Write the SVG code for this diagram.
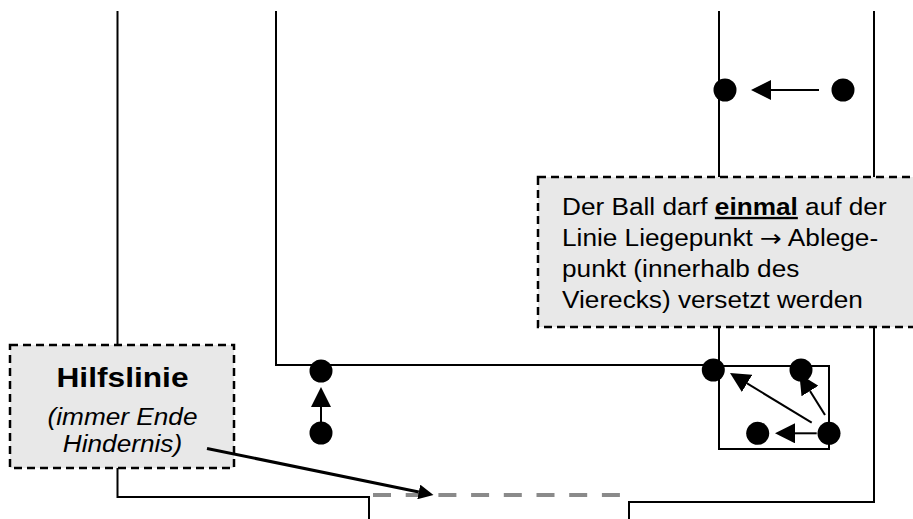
<svg xmlns="http://www.w3.org/2000/svg" width="913" height="519" viewBox="0 0 913 519">
<style>
.ln{fill:none;stroke:#000;stroke-width:2}
.ball{fill:#000}
.note{fill:#e8e8e8;stroke:#000;stroke-width:2.5;stroke-dasharray:8 5}
.t{font-family:"Liberation Sans",Arial,sans-serif;font-size:23.4px;fill:#000}
.conn{fill:none;stroke:#000;stroke-width:2;marker-end:url(#ah)}
.help{fill:none;stroke:#8a8a8a;stroke-width:4;stroke-dasharray:18 14.7}
</style>
<defs>
<marker id="ah" markerUnits="userSpaceOnUse" markerWidth="20" markerHeight="20" viewBox="0 0 20 20" refX="0" refY="10" orient="auto">
<path d="M0,0 L20,10 L0,20 z" fill="#000"/>
</marker>
<marker id="ah2" markerUnits="userSpaceOnUse" markerWidth="15" markerHeight="15" viewBox="0 0 15 15" refX="0" refY="7.5" orient="auto">
<path d="M0,0 L15,7.5 L0,15 z" fill="#000"/>
</marker>
</defs>
<rect width="913" height="519" fill="#fff"/>
<g id="field">
<path class="ln" d="M117.5,11 V497 H369 V519"/>
<path class="ln" d="M276,11 V365 H719"/>
<path class="ln" d="M719,11 V449 H829 V366 H719"/>
<path class="ln" d="M874,11 V502 H629 V519"/>
<line id="hilfslinie" class="help" x1="373" y1="495" x2="620" y2="495"/>
</g>
<g id="note-versetzen">
<rect class="note" x="538" y="177" width="400" height="150"/>
<g transform="translate(562,0) scale(1.12,1)">
<text class="t" y="215">Der Ball darf <tspan font-weight="bold" text-decoration="underline">einmal</tspan> auf der</text>
<text class="t" y="246">Linie Liegepunkt <tspan font-family="'DejaVu Sans',sans-serif">→</tspan> Ablege-</text>
<text class="t" y="277">punkt (innerhalb des</text>
<text class="t" y="308">Vierecks) versetzt werden</text>
</g>
</g>
<g id="note-hilfslinie">
<rect class="note" x="10" y="345" width="224" height="123"/>
<g transform="translate(122.5,0) scale(1.12,1)" text-anchor="middle">
<text class="t" y="387" style="font-weight:bold;font-size:28.3px">Hilfslinie</text>
<text class="t" y="425" font-style="italic">(immer Ende</text>
<text class="t" y="452" font-style="italic">Hindernis)</text>
</g>
</g>
<g id="connectors">
<line class="conn" x1="819" y1="90" x2="771" y2="90"/>
<line class="conn" x1="321" y1="422" x2="321" y2="407"/>
<line class="conn" x1="811.7" y1="422.7" x2="747.1" y2="383.4"/>
<line class="conn" x1="825" y1="415" x2="810" y2="391"/>
<line class="conn" x1="816.7" y1="433.3" x2="795" y2="433.3"/>
<line x1="207" y1="448.5" x2="418.8" y2="492" stroke="#000" stroke-width="3" marker-end="url(#ah2)"/>
</g>
<g id="ball-top-left"><circle class="ball" cx="725" cy="90" r="11.5"/></g>
<g id="ball-top-right"><circle class="ball" cx="843" cy="90" r="11.5"/></g>
<g id="ball-left-line"><circle class="ball" cx="321" cy="371" r="11.5"/></g>
<g id="ball-left-below"><circle class="ball" cx="321" cy="433" r="11.5"/></g>
<g id="ball-corner"><circle class="ball" cx="713.3" cy="370" r="11.5"/></g>
<g id="ball-square-tr"><circle class="ball" cx="801" cy="370" r="11.5"/></g>
<g id="ball-square-bl"><circle class="ball" cx="757.7" cy="433.3" r="11.5"/></g>
<g id="ball-square-br"><circle class="ball" cx="829" cy="433.3" r="11.5"/></g>
</svg>
